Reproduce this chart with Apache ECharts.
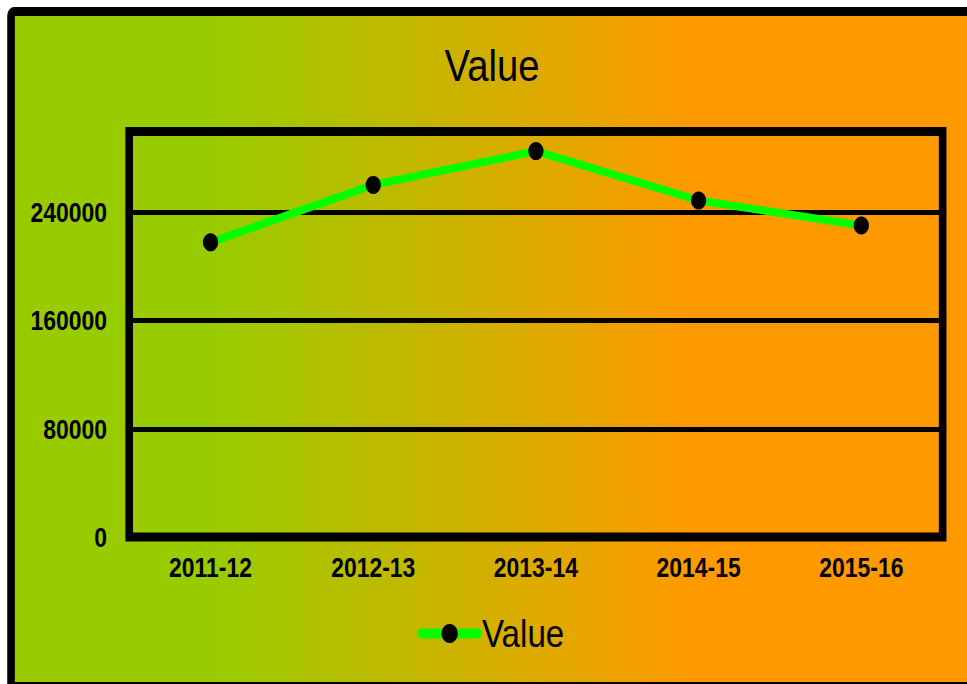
<!DOCTYPE html>
<html>
<head>
<meta charset="utf-8">
<title>Value</title>
<script src="https://cdn.jsdelivr.net/npm/echarts@6/dist/echarts.min.js"></script>
<style>
    html, body { margin: 0; padding: 0; background: #fff; overflow: hidden; }
    /* the reference looks squeezed sideways, so draw wide and squeeze */
    #main { width: 1138px; height: 684px; transform: scaleX(0.85); transform-origin: 0 0; }
</style>
</head>
<body>
<div id="main"></div>
<script>
var years = ['2011-12', '2012-13', '2013-14', '2014-15', '2015-16'];
var values = [218000, 260500, 285500, 249000, 230500];
var yTicks = [0, 80000, 160000, 240000];

var chartDom = document.getElementById('main');
var myChart = echarts.init(chartDom, null, { renderer: 'svg', width: 1138, height: 684 });

var labelFont = {
    color: '#000',
    fontSize: 27,
    fontWeight: 'bold',
    fontFamily: '"Liberation Sans", Arial, sans-serif'
};

var option = {
    backgroundColor: '#fff',
    animation: false,
    graphic: [
        {
            type: 'rect',
            z: -10,
            shape: { x: 13, y: 11.5, width: 1200, height: 675, r: 4 },
            style: {
                fill: {
                    type: 'linear', x: 0, y: 0, x2: 1138, y2: 0, global: true,
                    colorStops: [
                        { offset: 0, color: '#99cc00' },
                        { offset: 0.22, color: '#99cc00' },
                        { offset: 0.72, color: '#ff9900' },
                        { offset: 1, color: '#ff9900' }
                    ]
                },
                stroke: '#000',
                lineWidth: 9
            }
        }
    ],
    title: {
        text: 'Value',
        left: 518,
        top: 38,
        textStyle: {
            color: '#000',
            fontSize: 45,
            fontWeight: 'normal',
            fontFamily: '"Liberation Sans", Arial, sans-serif'
        }
    },
    legend: {
        data: ['Value'],
        left: 486,
        top: 609,
        itemWidth: 66,
        itemHeight: 24,
        lineStyle: { width: 10, cap: 'round' },
        textStyle: {
            color: '#000',
            fontSize: 39,
            fontFamily: '"Liberation Sans", Arial, sans-serif'
        }
    },
    grid: {
        left: 152,
        right: 29,
        top: 131.5,
        bottom: 147,
        show: true,
        borderColor: '#000',
        borderWidth: 9,
        backgroundColor: 'transparent'
    },
    xAxis: {
        type: 'category',
        data: years,
        boundaryGap: true,
        axisLine: { show: false },
        axisTick: { show: false },
        axisLabel: Object.assign({ margin: 17 }, labelFont),
        splitLine: { show: false }
    },
    yAxis: {
        type: 'value',
        min: yTicks[0],
        max: 300000,
        interval: yTicks[1] - yTicks[0],
        axisLine: { show: false },
        axisTick: { show: false },
        axisLabel: Object.assign({
            margin: 26,
            showMaxLabel: false,
            formatter: function (v) { return String(v); }
        }, labelFont),
        splitLine: { show: true, lineStyle: { color: '#000', width: 5 } }
    },
    series: [
        {
            name: 'Value',
            type: 'line',
            data: values,
            symbol: 'circle',
            symbolSize: 18,
            lineStyle: { color: '#00ff00', width: 8 },
            itemStyle: { color: '#000' }
        }
    ]
};

myChart.setOption(option);
</script>
</body>
</html>
